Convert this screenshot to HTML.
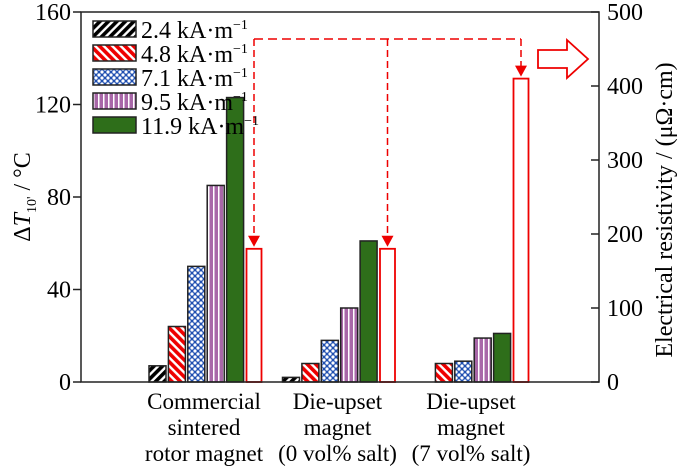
<!DOCTYPE html>
<html><head><meta charset="utf-8"><style>
body{margin:0;background:#fff}
svg{display:block;font-family:"Liberation Serif",serif}
</style></head><body>
<svg width="685" height="469" viewBox="0 0 685 469">
<defs>
<pattern id="p0" width="6" height="6" patternUnits="userSpaceOnUse" patternTransform="rotate(45)"><rect width="6" height="6" fill="#fff"/><rect width="3.6" height="6" fill="#000"/></pattern>
<pattern id="p1" width="6" height="6" patternUnits="userSpaceOnUse" patternTransform="rotate(-45)"><rect width="6" height="6" fill="#fff"/><rect width="3.6" height="6" fill="#e00"/></pattern>
<pattern id="p2" width="6" height="6" patternUnits="userSpaceOnUse"><rect width="6" height="6" fill="#1f4fb0"/><circle cx="3" cy="3" r="1.6" fill="#fff"/><circle cx="0" cy="0" r="1.6" fill="#fff"/><circle cx="6" cy="0" r="1.6" fill="#fff"/><circle cx="0" cy="6" r="1.6" fill="#fff"/><circle cx="6" cy="6" r="1.6" fill="#fff"/></pattern>
<pattern id="p3" width="5" height="6" patternUnits="userSpaceOnUse"><rect width="5" height="6" fill="#a867a8"/><rect x="3" width="1.5" height="6" fill="#fff"/></pattern>
</defs>
<g id="bars"></g>
<g id="axes"></g>
<g font-size="24">
<rect x="93" y="21" width="43" height="16" fill="url(#p0)" stroke="#222" stroke-width="1.5"/>
<text x="141" y="38">2.4 kA·m<tspan dy="-9" font-size="14">−1</tspan></text>
<rect x="93" y="45" width="43" height="16" fill="url(#p1)" stroke="#222" stroke-width="1.5"/>
<text x="141" y="62">4.8 kA·m<tspan dy="-9" font-size="14">−1</tspan></text>
<rect x="93" y="69" width="43" height="16" fill="url(#p2)" stroke="#222" stroke-width="1.5"/>
<text x="141" y="86">7.1 kA·m<tspan dy="-9" font-size="14">−1</tspan></text>
<rect x="93" y="93" width="43" height="16" fill="url(#p3)" stroke="#222" stroke-width="1.5"/>
<text x="141" y="110">9.5 kA·m<tspan dy="-9" font-size="14">−1</tspan></text>
<rect x="93" y="117" width="43" height="16" fill="#2e6e1a" stroke="#222" stroke-width="1.5"/>
<text x="141" y="134">11.9 kA·m<tspan dy="-9" font-size="14">−1</tspan></text>
</g>
<g>
<polygon points="538,50 567,50 567,40 588,59 567,78 567,68 538,68" fill="#fff" stroke="#e00" stroke-width="1.8"/>
</g>
<text transform="translate(30,197) rotate(-90)" text-anchor="middle" font-size="24">Δ<tspan font-style="italic">T</tspan><tspan font-size="14" dy="6">10'</tspan><tspan dy="-6"> / °C</tspan></text>
<text transform="translate(672,210) rotate(-90)" text-anchor="middle" font-size="24">Electrical resistivity / (μΩ·cm)</text>
</svg>
<script>
const categories=[["Commercial","sintered","rotor magnet"],["Die-upset","magnet","(0 vol% salt)"],["Die-upset","magnet","(7 vol% salt)"]];
const fields=["2.4","4.8","7.1","9.5","11.9"];
const s24=[7,2,0];
const s48=[24,8,8];
const s71=[50,18,9];
const s95=[85,32,19];
const s119=[123,61,21];
const resistivity=[180,180,410];
const leftTicks=[0,40,80,120,160];
const rightTicks=[0,100,200,300,400,500];
const series=[s24,s48,s71,s95,s119];
const fills=["url(#p0)","url(#p1)","url(#p2)","url(#p3)","#2e6e1a"];
const X0=81,X1=599,Y0=382,Y1=12;
const yL=v=>Y0-(v/160)*(Y0-Y1);
const yR=v=>Y0-(v/500)*(Y0-Y1);
const groupStart=g=>149+g*133.5;
const ns="http://www.w3.org/2000/svg";
const bars=document.getElementById('bars'),axes=document.getElementById('axes');
function mk(tag,attrs,parent){const e=document.createElementNS(ns,tag);for(const k in attrs)e.setAttribute(k,attrs[k]);parent.appendChild(e);return e;}
categories.forEach((c,g)=>{
  series.forEach((s,i)=>{
    const v=s[g]; if(v<=0) return;
    const x=groupStart(g)+i*19.4;
    const r=mk('rect',{x:x,y:yL(v),width:17,height:Y0-yL(v),fill:fills[i],stroke:"#222","stroke-width":1.5},bars);
    
    
  });
  const rx=groupStart(g)+5*19.4+0.5;
  const rb=mk('rect',{x:rx,y:yR(resistivity[g]),width:15,height:Y0-yR(resistivity[g]),fill:"none",stroke:"#e00","stroke-width":1.8},bars);
  
  
  const cx=rx+7.5;
  const dl=mk('line',{x1:cx,y1:39,x2:cx,y2:yR(resistivity[g])-12,stroke:"#e00","stroke-width":1.5,"stroke-dasharray":"7,4"},bars);
  
  
  const ah=mk('polygon',{points:`${cx-6},${yR(resistivity[g])-13} ${cx+6},${yR(resistivity[g])-13} ${cx},${yR(resistivity[g])-2}`,fill:"#e00"},bars);
  
  
  c.forEach((t,j)=>{
    const tx=mk('text',{x:groupStart(g)+55,y:409+j*26,"text-anchor":"middle","font-size":23},axes);
    tx.textContent=t;
    
    
  });
});
const first=groupStart(0)+5*19.4+8, last=groupStart(2)+5*19.4+8;
const hl=mk('line',{x1:first,y1:39,x2:last,y2:39,stroke:"#e00","stroke-width":1.5,"stroke-dasharray":"9,5"},bars);


const frame=mk('path',{d:`M${X0},${Y1} H${X1} V${Y0} H${X0} Z`,fill:"none",stroke:"#222","stroke-width":1.5},axes);


leftTicks.forEach(v=>{
  const l=mk('line',{x1:X0-8,x2:X0,y1:yL(v),y2:yL(v),stroke:"#222","stroke-width":1.5},axes);
  
  
  const t=mk('text',{x:X0-10,y:yL(v)+8,"text-anchor":"end","font-size":24},axes);
  t.textContent=v;
  
  
});
rightTicks.forEach(v=>{
  const l=mk('line',{x1:X1-8,x2:X1,y1:yR(v),y2:yR(v),stroke:"#222","stroke-width":1.5},axes);
  
  
  const t=mk('text',{x:X1+8,y:yR(v)+8,"text-anchor":"start","font-size":24},axes);
  t.textContent=v;
  
  
});
</script>
</body></html>
